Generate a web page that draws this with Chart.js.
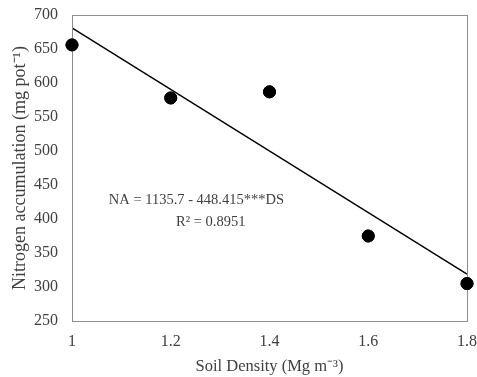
<!DOCTYPE html>
<html>
<head>
<meta charset="utf-8">
<script src="https://cdn.jsdelivr.net/npm/chart.js@4/dist/chart.umd.min.js"></script>
<style>
  html, body { margin: 0; padding: 0; background: #fff; }
  #wrap { width: 477px; height: 377px; }
</style>
</head>
<body>
<div id="wrap"><canvas id="chart"></canvas></div>
<script>
// values
const soilDensity = [1.0, 1.2, 1.4, 1.6, 1.8];
const nitrogen = [656, 578, 587, 375, 305];
// trend line end points
const trendX = [1.0, 1.8];
const trendY = [681, 319];
const equationLines = ['NA = 1135.7 - 448.415***DS', 'R\u00b2 = 0.8951'];

const serif = '"Liberation Serif", "Times New Roman", serif';
const textColor = '#404040';

const frame = {
    id: 'frame',
    afterDatasetsDraw(chart) {
        const { ctx, chartArea: a, scales } = chart;
        ctx.save();
        ctx.strokeStyle = '#8c8c8c';
        ctx.lineWidth = 1;
        ctx.strokeRect(Math.round(a.left) + 0.5, Math.round(a.top) + 0.5,
            Math.round(a.right - a.left), Math.round(a.bottom - a.top));
        ctx.fillStyle = textColor;
        ctx.font = '14.5px ' + serif;
        ctx.textBaseline = 'middle';
        ctx.textAlign = 'center';
        ctx.fillText(equationLines[0], scales.x.getPixelForValue(1.252), scales.y.getPixelForValue(427));
        ctx.fillText(equationLines[1], scales.x.getPixelForValue(1.281), scales.y.getPixelForValue(396));
        ctx.restore();
    },
    afterDraw(chart) {
        // redraw points above the frame
        chart.getDatasetMeta(0).controller.draw();
    }
};

new Chart(document.getElementById('chart'), {
    type: 'scatter',
    data: {
        datasets: [{
            data: soilDensity.map((x, i) => ({ x, y: nitrogen[i] })),
            backgroundColor: '#000',
            borderColor: '#000',
            pointRadius: 6,
            clip: false,
            order: 0
        }, {
            type: 'line',
            data: trendX.map((x, i) => ({ x, y: trendY[i] })),
            borderColor: '#000',
            borderWidth: 1.3,
            pointRadius: 0,
            fill: false,
            order: 1
        }]
    },
    options: {
        responsive: true,
        maintainAspectRatio: false,
        animation: false,
        events: [],
        layout: { padding: { top: 15, right: 10, left: 0, bottom: 0 } },
        plugins: { legend: { display: false }, tooltip: { enabled: false } },
        scales: {
            x: {
                type: 'linear',
                min: 1, max: 1.8,
                grid: { display: false, drawTicks: false },
                border: { display: false },
                ticks: {
                    stepSize: 0.2,
                    padding: 11,
                    color: textColor,
                    font: { family: serif, size: 16 },
                    callback: v => Math.round(v * 10) / 10
                },
                title: {
                    display: true,
                    text: 'Soil Density (Mg m\u207b\u00b3)',
                    color: textColor,
                    font: { family: serif, size: 16.5 },
                    padding: { top: 2, bottom: 0 }
                },
                afterFit(s) { s.height = 56; s.paddingLeft = 0; s.paddingRight = 0; }
            },
            y: {
                min: 250, max: 700,
                grid: { display: false, drawTicks: false },
                border: { display: false },
                ticks: {
                    stepSize: 50,
                    padding: 14,
                    color: textColor,
                    font: { family: serif, size: 16 }
                },
                title: {
                    display: true,
                    text: 'Nitrogen accumulation (mg pot\u207b\u00b9)',
                    color: textColor,
                    font: { family: serif, size: 18 },
                    padding: { top: 9, bottom: 2 }
                },
                afterFit(s) { s.width = 72; s.paddingTop = 0; s.paddingBottom = 0; }
            }
        }
    },
    plugins: [frame]
});
</script>
</body>
</html>
